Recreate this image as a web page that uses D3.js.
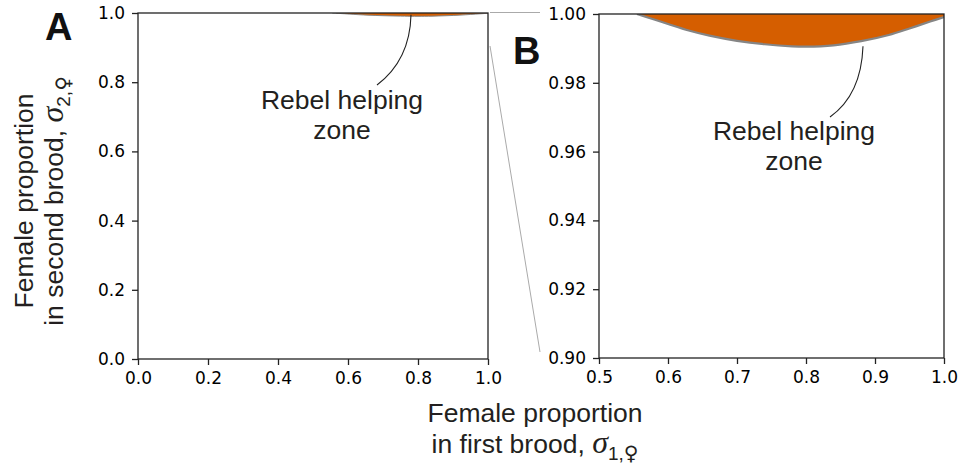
<!DOCTYPE html>
<html>
<head>
<meta charset="utf-8">
<script src="https://cdn.jsdelivr.net/npm/d3@7"></script>
<style>
  body { margin: 0; background: #fff; }
  svg { display: block; }
  .tick text { font-family: "DejaVu Sans", sans-serif; font-size: 17px; fill: #000; }
  .lab { font-family: "Liberation Sans", Arial, sans-serif; font-size: 26.5px; fill: #231f20; }
</style>
</head>
<body>
<div id="chart"></div>
<script>
// boundary of the rebel helping zone: sigma1 -> sigma2
var sigma1 = [0.555, 0.58, 0.60, 0.63, 0.66, 0.70, 0.74, 0.78, 0.80, 0.84, 0.88, 0.92, 0.95, 0.98, 1.00];
var sigma2 = [1.000, 0.9984, 0.9971, 0.9952, 0.9937, 0.9922, 0.9912, 0.9906, 0.9905, 0.9909, 0.9921, 0.9939, 0.9958, 0.9978, 0.9991];

var ticksAx = [0, 0.2, 0.4, 0.6, 0.8, 1.0];
var ticksAy = [0, 0.2, 0.4, 0.6, 0.8, 1.0];
var ticksBx = [0.5, 0.6, 0.7, 0.8, 0.9, 1.0];
var ticksBy = [0.90, 0.92, 0.94, 0.96, 0.98, 1.00];

var zone = sigma1.map(function (d, i) { return [d, sigma2[i]]; });

var width = 960, height = 471;
var svg = d3.select("#chart").append("svg")
    .attr("width", width)
    .attr("height", height);

var xA = d3.scaleLinear().domain([0, 1]).range([138, 488]);
var yA = d3.scaleLinear().domain([0, 1]).range([359, 13]);
var xB = d3.scaleLinear().domain([0.5, 1]).range([599, 944]);
var yB = d3.scaleLinear().domain([0.9, 1]).range([358, 14]);

function panel(name, x, y, tx, ty, fx, fy, lw) {
    var g = svg.append("g").attr("class", "panel-" + name);

    svg.append("clipPath").attr("id", "clip" + name)
        .append("rect")
        .attr("x", x.range()[0]).attr("y", y.range()[1])
        .attr("width", x.range()[1] - x.range()[0])
        .attr("height", y.range()[0] - y.range()[1]);

    var area = d3.area()
        .x(function (d) { return x(d[0]); })
        .y0(y(1))
        .y1(function (d) { return y(d[1]); })
        .curve(d3.curveCatmullRom);
    var line = d3.line()
        .x(function (d) { return x(d[0]); })
        .y(function (d) { return y(d[1]); })
        .curve(d3.curveCatmullRom);

    g.append("path").datum(zone)
        .attr("clip-path", "url(#clip" + name + ")")
        .attr("d", area)
        .attr("fill", "#d55e00");
    g.append("path").datum(zone)
        .attr("clip-path", "url(#clip" + name + ")")
        .attr("d", line)
        .attr("fill", "none")
        .attr("stroke", "#858585")
        .attr("stroke-width", lw);

    // box
    g.append("rect")
        .attr("x", x.range()[0]).attr("y", y.range()[1])
        .attr("width", x.range()[1] - x.range()[0])
        .attr("height", y.range()[0] - y.range()[1])
        .attr("fill", "none")
        .attr("stroke", "#222")
        .attr("stroke-width", 1.3);

    var xAxis = g.append("g")
        .attr("transform", "translate(0," + y.range()[0] + ")")
        .call(d3.axisBottom(x).tickValues(tx).tickFormat(d3.format(fx)).tickSize(6).tickPadding(7));
    var yAxis = g.append("g")
        .attr("transform", "translate(" + x.range()[0] + ",0)")
        .call(d3.axisLeft(y).tickValues(ty).tickFormat(d3.format(fy)).tickSize(6).tickPadding(7));
    [xAxis, yAxis].forEach(function (a) {
        a.select(".domain").remove();
        a.selectAll(".tick line").attr("stroke", "#222").attr("stroke-width", 1.3);
    });
    return g;
}

var gA = panel("A", xA, yA, ticksAx, ticksAy, ".1f", ".1f", 1);
var gB = panel("B", xB, yB, ticksBx, ticksBy, ".1f", ".2f", 2.2);

// annotations
function note(g, p, c, e, tx, ty) {
    g.append("path")
        .attr("d", "M" + p[0] + "," + p[1] + "Q" + c[0] + "," + c[1] + " " + e[0] + "," + e[1])
        .attr("fill", "none")
        .attr("stroke", "#222")
        .attr("stroke-width", 1.1);
    var t = g.append("text").attr("class", "lab").attr("text-anchor", "middle");
    t.append("tspan").attr("x", tx).attr("y", ty).text("Rebel helping");
    t.append("tspan").attr("x", tx).attr("y", ty + 30).text("zone");
}
note(gA, [xA(0.78), yA(0.995)], [xA(0.777), 60], [377, 85], 342, 109);
note(gB, [xB(0.8826), yB(0.9906)], [xB(0.88), 95], [830, 117], 794, 140);

// zoom connectors
svg.append("line")
    .attr("x1", xA(1) + 2).attr("y1", yA(1) - 0.5)
    .attr("x2", xB(0.5) - 59).attr("y2", yA(1) - 0.5)
    .attr("stroke", "#aaa").attr("stroke-width", 1);
svg.append("line")
    .attr("x1", xA(1) + 2).attr("y1", 46)
    .attr("x2", xB(0.5) - 59).attr("y2", 352)
    .attr("stroke", "#aaa").attr("stroke-width", 1);

// panel letters
svg.append("text").attr("x", 45).attr("y", 40)
    .style("font-family", "Liberation Sans, Arial, sans-serif")
    .style("font-weight", "bold").style("font-size", "38px").attr("fill", "#111").text("A");
svg.append("text").attr("x", 513).attr("y", 64)
    .style("font-family", "Liberation Sans, Arial, sans-serif")
    .style("font-weight", "bold").style("font-size", "38px").attr("fill", "#111").text("B");

// axis labels
function sigmaLabel(t, pre, sub) {
    t.append("tspan").text(pre);
    t.append("tspan").style("font-family", "Liberation Serif, serif")
        .style("font-style", "italic").style("font-size", "32px").text("σ");
    t.append("tspan").attr("dy", 7).style("font-size", "19px").text(sub[0] + ",");
    t.append("tspan").style("font-family", "DejaVu Sans, sans-serif")
        .style("font-size", "20px").text("\u2640\uFE0E");
}
svg.append("text").attr("class", "lab").attr("text-anchor", "middle")
    .attr("x", 535).attr("y", 422).text("Female proportion");
sigmaLabel(svg.append("text").attr("class", "lab").attr("text-anchor", "middle")
    .attr("x", 535).attr("y", 453), "in first brood, ", "1");

svg.append("text").attr("class", "lab").attr("text-anchor", "middle")
    .attr("transform", "translate(33,201) rotate(-90)").text("Female proportion");
sigmaLabel(svg.append("text").attr("class", "lab").attr("text-anchor", "middle")
    .attr("transform", "translate(63,201) rotate(-90)"), "in second brood, ", "2");
</script>
</body>
</html>
